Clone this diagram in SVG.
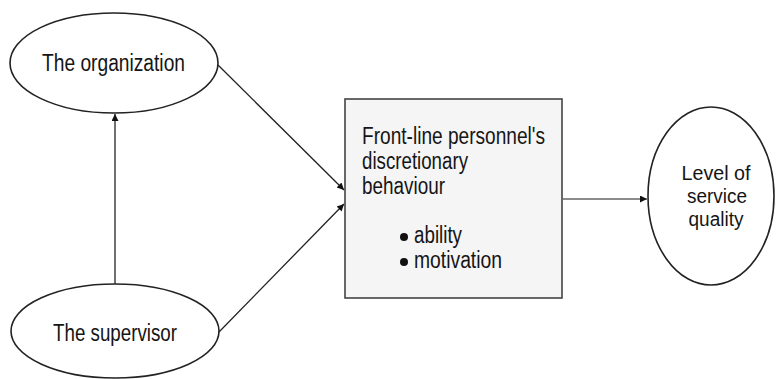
<svg xmlns="http://www.w3.org/2000/svg" width="776" height="379" viewBox="0 0 776 379">
<style>
.node{fill:#ffffff;stroke:#222;stroke-width:1.6}
.box{fill:#f5f5f5;stroke:#444;stroke-width:1.6}
.lbl{font-family:"Liberation Sans",Arial,sans-serif;font-size:23px;fill:#151515}
.sm{font-size:20px}
.edge{stroke:#222;stroke-width:1.3;fill:none;marker-end:url(#ah)}
.edge.light{stroke:#666}
</style>
<defs>
<marker id="ah" viewBox="0 0 10 10" refX="10" refY="5" markerWidth="9" markerHeight="7" markerUnits="userSpaceOnUse" orient="auto">
<path d="M0,0 L10,5 L0,10 z" fill="#111"/>
</marker>
</defs>
<rect width="776" height="379" fill="#ffffff"/>
<g id="organization">
<ellipse class="node" cx="114" cy="63" rx="104" ry="50"/>
<text class="lbl" x="113.5" y="71" text-anchor="middle" textLength="143" lengthAdjust="spacingAndGlyphs">The organization</text>
</g>
<g id="supervisor">
<ellipse class="node" cx="115" cy="331" rx="104" ry="47"/>
<text class="lbl" x="115" y="341" text-anchor="middle" textLength="124" lengthAdjust="spacingAndGlyphs">The supervisor</text>
</g>
<g id="behaviour">
<rect class="box" x="345" y="99" width="217" height="199"/>
<text class="lbl" x="362" y="144" textLength="183" lengthAdjust="spacingAndGlyphs">Front-line personnel's</text>
<text class="lbl" x="362" y="169" textLength="106" lengthAdjust="spacingAndGlyphs">discretionary</text>
<text class="lbl" x="362" y="194" textLength="83" lengthAdjust="spacingAndGlyphs">behaviour</text>
<circle cx="404" cy="237" r="4" fill="#111"/>
<text class="lbl" x="414" y="243" textLength="48" lengthAdjust="spacingAndGlyphs">ability</text>
<circle cx="404" cy="262" r="4" fill="#111"/>
<text class="lbl" x="414" y="268" textLength="88" lengthAdjust="spacingAndGlyphs">motivation</text>
</g>
<g id="service-quality">
<ellipse class="node" cx="711" cy="196" rx="63" ry="89"/>
<text class="lbl sm" x="716" y="180" text-anchor="middle" textLength="69" lengthAdjust="spacingAndGlyphs">Level of</text>
<text class="lbl sm" x="717" y="203" text-anchor="middle" textLength="60" lengthAdjust="spacingAndGlyphs">service</text>
<text class="lbl sm" x="716" y="226" text-anchor="middle" textLength="55" lengthAdjust="spacingAndGlyphs">quality</text>
</g>
<g id="connectors">
<line class="edge" x1="115" y1="284" x2="115" y2="114"/>
<line class="edge" x1="218" y1="65" x2="344" y2="190"/>
<line class="edge" x1="219" y1="332" x2="344" y2="204"/>
<line class="edge light" x1="562" y1="199" x2="647" y2="199"/>
</g>
</svg>
